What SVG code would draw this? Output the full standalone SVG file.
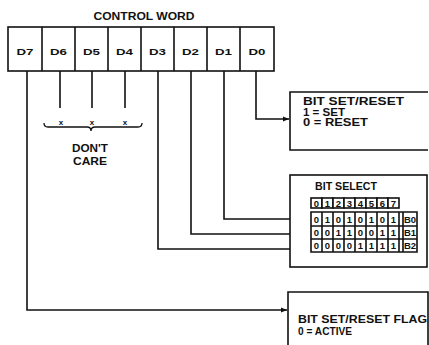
<svg xmlns="http://www.w3.org/2000/svg" width="429" height="345" viewBox="0 0 429 345">
<defs>
<marker id="ah" viewBox="0 0 6 6" refX="6" refY="3" markerWidth="6" markerHeight="6" markerUnits="userSpaceOnUse" orient="auto">
<path d="M0,0.5 L6,3 L0,5.5 Z" fill="#111"/>
</marker>
</defs>
<style>
.ln{fill:none;stroke:#111;stroke-width:1.6}
.bx{fill:#fff;stroke:#111;stroke-width:1.6}
.t{font-family:"Liberation Sans",Arial,sans-serif;font-weight:bold;fill:#111}
.c{font-size:9.5px;text-anchor:middle}
.cell{fill:#fff;stroke:#111;stroke-width:1.6}
.tc{font-family:"Liberation Sans",Arial,sans-serif;font-weight:bold;fill:#111;font-size:9.5px;text-anchor:middle}
</style>
<rect width="429" height="345" fill="#fff"/>

<text class="t" x="144" y="20" font-size="10.5" text-anchor="middle" textLength="101" lengthAdjust="spacingAndGlyphs">CONTROL WORD</text>

<g id="register">
<rect class="bx" x="8" y="27" width="266" height="44"/>
<path class="ln" d="M42,27V71M75,27V71M108,27V71M141,27V71M174,27V71M207,27V71M240,27V71"/>
<text class="t c" x="25" y="55" textLength="17" lengthAdjust="spacingAndGlyphs">D7</text>
<text class="t c" x="58.5" y="55" textLength="17" lengthAdjust="spacingAndGlyphs">D6</text>
<text class="t c" x="91.5" y="55" textLength="17" lengthAdjust="spacingAndGlyphs">D5</text>
<text class="t c" x="124.5" y="55" textLength="17" lengthAdjust="spacingAndGlyphs">D4</text>
<text class="t c" x="157.5" y="55" textLength="17" lengthAdjust="spacingAndGlyphs">D3</text>
<text class="t c" x="190.5" y="55" textLength="17" lengthAdjust="spacingAndGlyphs">D2</text>
<text class="t c" x="223.5" y="55" textLength="17" lengthAdjust="spacingAndGlyphs">D1</text>
<text class="t c" x="257" y="55" textLength="17" lengthAdjust="spacingAndGlyphs">D0</text>
</g>

<g id="connectors">
<path class="ln" d="M27,71V310H287" marker-end="url(#ah)"/>
<path class="ln" d="M158,71V249H309" marker-end="url(#ah)"/>
<path class="ln" d="M191,71V234H309" marker-end="url(#ah)"/>
<path class="ln" d="M224,71V219H309" marker-end="url(#ah)"/>
<path class="ln" d="M256,71V119H289" marker-end="url(#ah)"/>
<path class="ln" d="M60,71V108M92,71V108M125,71V108"/>
</g>

<g id="dontcare">
<text class="t" x="61" y="125" font-size="8" text-anchor="middle">x</text>
<text class="t" x="92" y="125" font-size="8" text-anchor="middle">x</text>
<text class="t" x="125" y="125" font-size="8" text-anchor="middle">x</text>
<path fill="none" stroke="#111" stroke-width="1.3" d="M44,123Q44,127 48,127H87Q91,127 91,131Q91,127 95,127H138Q142,127 142,123"/>
<text class="t" x="90" y="152" font-size="10" text-anchor="middle" textLength="36" lengthAdjust="spacingAndGlyphs">DON'T</text>
<text class="t" x="90" y="165" font-size="10" text-anchor="middle" textLength="34" lengthAdjust="spacingAndGlyphs">CARE</text>
</g>

<g id="bitsetreset">
<path class="bx" d="M428,92H290V150H428"/>
<text class="t" x="303" y="105" font-size="10" textLength="101" lengthAdjust="spacingAndGlyphs">BIT SET/RESET</text>
<text class="t" x="303" y="115.5" font-size="10" textLength="42" lengthAdjust="spacingAndGlyphs">1 = SET</text>
<text class="t" x="303" y="126" font-size="10" textLength="65" lengthAdjust="spacingAndGlyphs">0 = RESET</text>
</g>

<g id="bitselect">
<rect class="bx" x="290" y="175" width="137" height="92"/>
<text class="t" x="315" y="190" font-size="10.5" textLength="62" lengthAdjust="spacingAndGlyphs">BIT SELECT</text>
<g id="table">
<rect class="cell" x="311" y="198" width="11" height="10"/>
<rect class="cell" x="322" y="198" width="11" height="10"/>
<rect class="cell" x="333" y="198" width="11" height="10"/>
<rect class="cell" x="344" y="198" width="11" height="10"/>
<rect class="cell" x="355" y="198" width="11" height="10"/>
<rect class="cell" x="366" y="198" width="11" height="10"/>
<rect class="cell" x="377" y="198" width="11" height="10"/>
<rect class="cell" x="388" y="198" width="11" height="10"/>
<text class="tc" x="316.5" y="206.5">0</text>
<text class="tc" x="327.5" y="206.5">1</text>
<text class="tc" x="338.5" y="206.5">2</text>
<text class="tc" x="349.5" y="206.5">3</text>
<text class="tc" x="360.5" y="206.5">4</text>
<text class="tc" x="371.5" y="206.5">5</text>
<text class="tc" x="382.5" y="206.5">6</text>
<text class="tc" x="393.5" y="206.5">7</text>
<path class="cell" d="M311,212H417V252H311ZM311,226H417M311,239H417M322,212V252M333,212V252M344,212V252M355,212V252M366,212V252M377,212V252M388,212V252M399,212V252M403,212V252"/>
<text class="tc" x="316.5" y="222.5">0</text><text class="tc" x="327.5" y="222.5">1</text><text class="tc" x="338.5" y="222.5">0</text><text class="tc" x="349.5" y="222.5">1</text><text class="tc" x="360.5" y="222.5">0</text><text class="tc" x="371.5" y="222.5">1</text><text class="tc" x="382.5" y="222.5">0</text><text class="tc" x="393.5" y="222.5">1</text><text class="tc" x="410" y="222.5">B0</text>
<text class="tc" x="316.5" y="235.5">0</text><text class="tc" x="327.5" y="235.5">0</text><text class="tc" x="338.5" y="235.5">1</text><text class="tc" x="349.5" y="235.5">1</text><text class="tc" x="360.5" y="235.5">0</text><text class="tc" x="371.5" y="235.5">0</text><text class="tc" x="382.5" y="235.5">1</text><text class="tc" x="393.5" y="235.5">1</text><text class="tc" x="410" y="235.5">B1</text>
<text class="tc" x="316.5" y="248.5">0</text><text class="tc" x="327.5" y="248.5">0</text><text class="tc" x="338.5" y="248.5">0</text><text class="tc" x="349.5" y="248.5">0</text><text class="tc" x="360.5" y="248.5">1</text><text class="tc" x="371.5" y="248.5">1</text><text class="tc" x="382.5" y="248.5">1</text><text class="tc" x="393.5" y="248.5">1</text><text class="tc" x="410" y="248.5">B2</text>
</g>
</g>

<g id="flag">
<path class="bx" d="M288,346V292H428V346"/>
<text class="t" x="298" y="323" font-size="10.5" textLength="129" lengthAdjust="spacingAndGlyphs">BIT SET/RESET FLAG</text>
<text class="t" x="298" y="335" font-size="10.5" textLength="54" lengthAdjust="spacingAndGlyphs">0 = ACTIVE</text>
</g>
</svg>
